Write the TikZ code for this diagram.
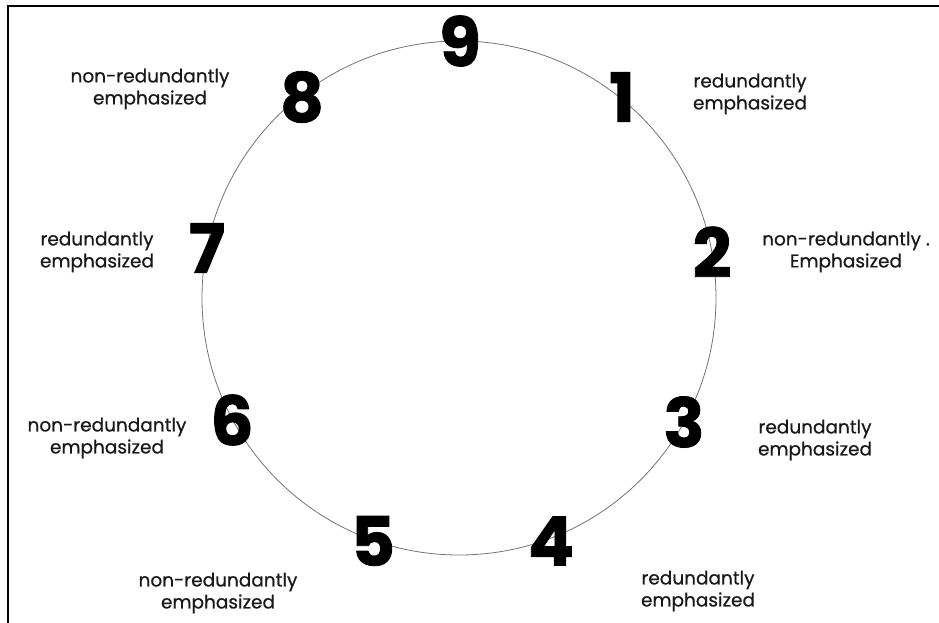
\documentclass[tikz,border=0pt]{standalone}
\usepackage{fontspec}
\setmainfont{Poppins}
\newfontfamily\lblfont{Poppins}[FakeBold=0.6]
\newfontfamily\digfont{Poppins}[FakeBold=1.2]
\tikzset{
  frameline/.style={line width=2pt, black},
  ring/.style={line width=0.8pt, draw=black!55},
  digit/.style={font=\digfont\fontsize{68}{68}\selectfont\bfseries, inner sep=0pt, anchor=center},
  lbl/.style={font=\lblfont\fontsize{18.5}{22}\selectfont, align=center, inner sep=0pt, anchor=center, text=black!90},
}
\begin{document}
\begin{tikzpicture}[x=1pt, y=-1pt]
\useasboundingbox (0,0) rectangle (939,623);
% frame
\coordinate (ftr) at (939,6);
\coordinate (ftl) at (8,6);
\coordinate (fbl) at (8,623);
\draw[frameline] (ftr) -- (ftl) -- (fbl);
% circle
\coordinate (c) at (459,298);
\draw[ring] (c) circle[radius=257];
% digits
\node[digit] (d9) at (460,41) {9};
\node[digit] (d1) at (622,97) {1};
\node[digit] (d2) at (712,252) {2};
\node[digit] (d3) at (684,422) {3};
\node[digit] (d4) at (551,541) {4};
\node[digit] (d5) at (373,541) {5};
\node[digit] (d6) at (232,420) {6};
\node[digit] (d7) at (207,248) {7};
\node[digit] (d8) at (302,97) {8};
% labels
\node[lbl] (l8) at (150,89) {non-redundantly\\emphasized};
\node[lbl] (l1) at (750,94) {redundantly\\emphasized};
\node[lbl] (l2) at (846,252) {non-redundantly .\\Emphasized};
\node[lbl] (l7) at (97,252) {redundantly\\emphasized};
\node[lbl] (l6) at (107,438) {non-redundantly\\emphasized};
\node[lbl] (l3) at (815,440) {redundantly\\emphasized};
\node[lbl] (l4) at (698,591) {redundantly\\emphasized};
\node[lbl] (l5) at (218,593) {non-redundantly\\emphasized};
\end{tikzpicture}
\end{document}
